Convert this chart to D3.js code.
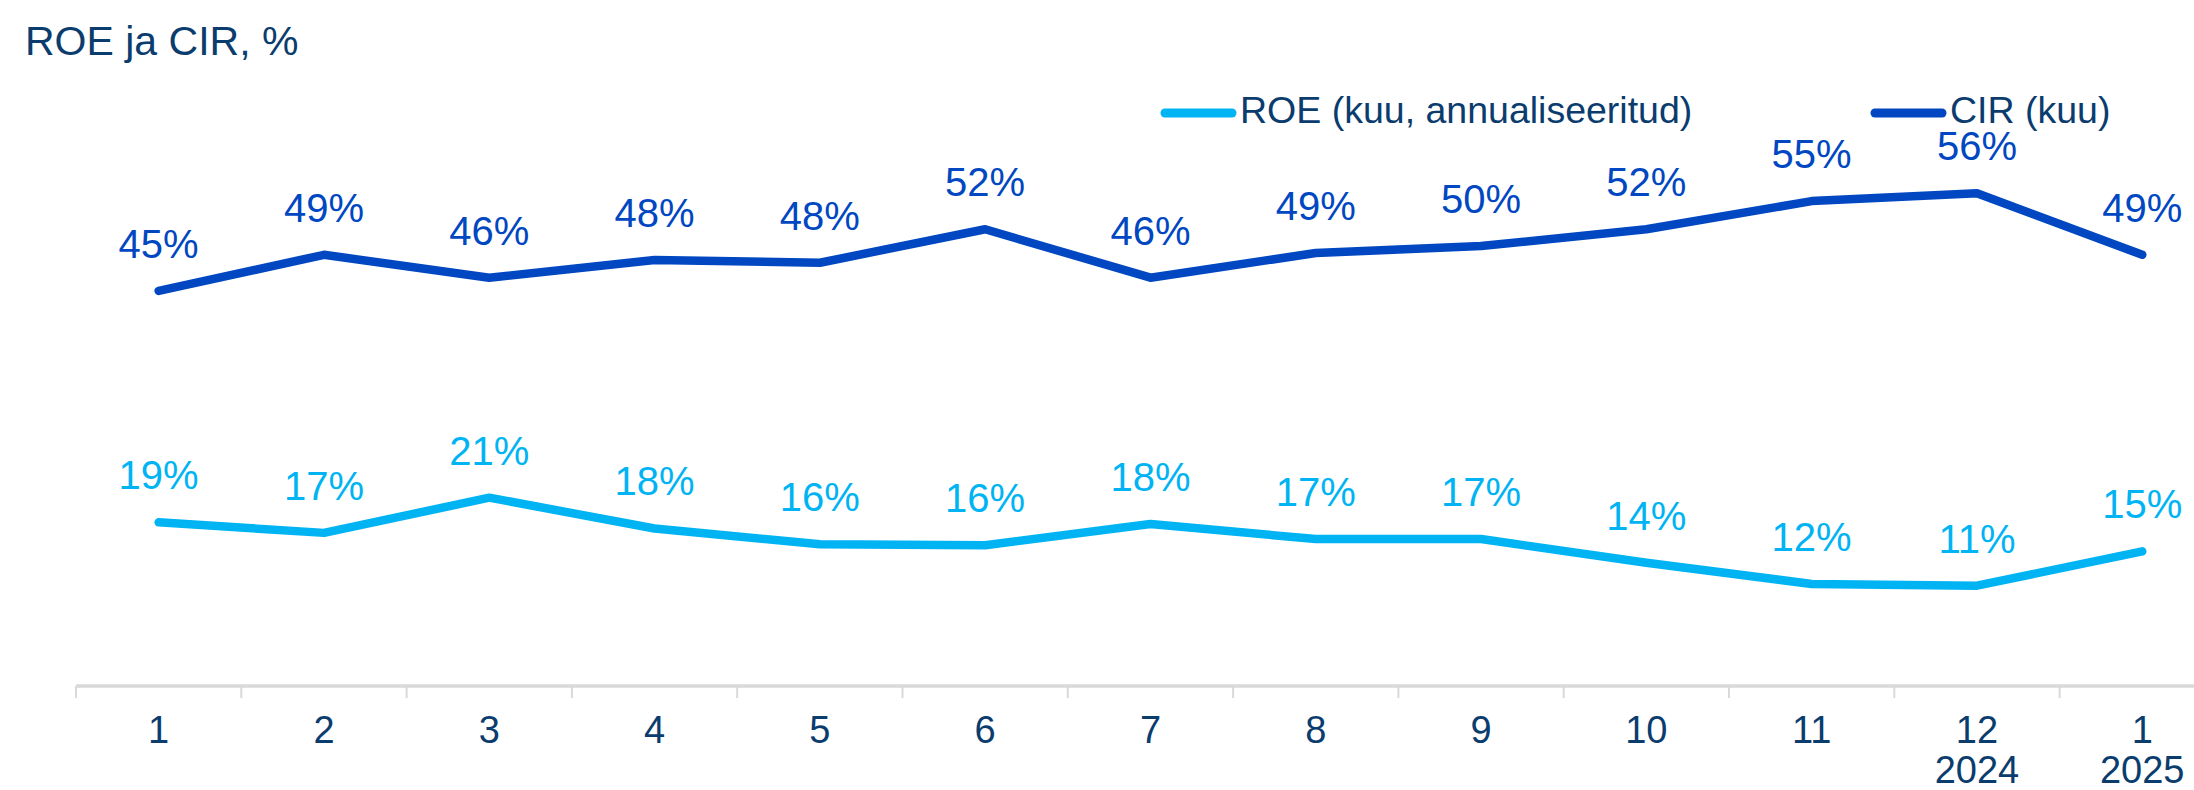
<!DOCTYPE html>
<html>
<head>
<meta charset="utf-8">
<style>
  html, body { margin: 0; padding: 0; background: #fff; }
  svg { display: block; }
  text { font-family: "Liberation Sans", Arial, sans-serif; }
</style>
</head>
<body>
<div id="container"></div>
<script src="https://cdn.jsdelivr.net/npm/d3@7"></script>
<script>

// data
const months = ['1', '2', '3', '4', '5', '6', '7', '8', '9', '10', '11', '12', '1'];
const years  = ['', '', '', '', '', '', '', '', '', '', '', '2024', '2025'];
const roe = [18.6, 17.4, 21.4, 17.9, 16.1, 16.0, 18.4, 16.7, 16.7, 14.0, 11.6, 11.4, 15.3];
const cir = [44.9, 49.0, 46.4, 48.4, 48.1, 51.9, 46.4, 49.2, 50.0, 51.9, 55.1, 56.0, 49.0];

const series = [
  { name: 'ROE (kuu, annualiseeritud)', values: roe, color: '#00b4f4', legendX: 1161 },
  { name: 'CIR (kuu)',                  values: cir, color: '#0047c1', legendX: 1871 }
];

const NAVY = '#0b3c6e';
const width = 2194;
const height = 790;

const axisY = 686;
const step = 165.3;

const svg = d3.create('svg')
    .attr('width', width)
    .attr('height', height);

// x: one band per month, the last band runs off the right edge like in the original
const x = d3.scaleBand()
    .domain(d3.range(months.length))
    .range([76, 76 + step * months.length])
    .paddingInner(0).paddingOuter(0);

const y = d3.scaleLinear()
    .domain([0, 60])
    .range([axisY, axisY - 60 * 8.8]);

const cx = i => x(i) + x.bandwidth() / 2;

// title
svg.append('text')
    .attr('x', 25)
    .attr('y', 55)
    .attr('fill', NAVY)
    .style('font-size', '41px')
    .text('ROE ja CIR, %');

// axis line + ticks on band edges
svg.append('line')
    .attr('x1', x.range()[0]).attr('x2', x.range()[1])
    .attr('y1', axisY).attr('y2', axisY)
    .attr('stroke', '#d9d9d9')
    .attr('stroke-width', 3.5);

svg.selectAll('.tick-mark').data(d3.range(months.length + 1)).enter().append('line')
    .attr('class', 'tick-mark')
    .attr('x1', i => x.range()[0] + i * x.step())
    .attr('x2', i => x.range()[0] + i * x.step())
    .attr('y1', axisY)
    .attr('y2', axisY + 12)
    .attr('stroke', '#d9d9d9')
    .attr('stroke-width', 2);

// month labels
svg.selectAll('.month').data(months).enter().append('text')
    .attr('class', 'month')
    .attr('x', (d, i) => cx(i))
    .attr('y', 743)
    .attr('text-anchor', 'middle')
    .attr('fill', NAVY)
    .style('font-size', '38px')
    .text(d => d);

svg.selectAll('.year').data(years).enter().append('text')
    .attr('class', 'year')
    .attr('x', (d, i) => cx(i))
    .attr('y', 783)
    .attr('text-anchor', 'middle')
    .attr('fill', NAVY)
    .style('font-size', '38px')
    .text(d => d);

// lines
const line = d3.line()
    .x((d, i) => cx(i))
    .y(d => y(d));

series.forEach(s => {
  svg.append('path')
      .datum(s.values)
      .attr('d', line)
      .attr('fill', 'none')
      .attr('stroke', s.color)
      .attr('stroke-width', 8.5)
      .attr('stroke-linejoin', 'round')
      .attr('stroke-linecap', 'round');

  svg.append('g').selectAll('text').data(s.values).enter().append('text')
      .attr('x', (d, i) => cx(i))
      .attr('y', d => y(d) - 33)
      .attr('text-anchor', 'middle')
      .attr('fill', s.color)
      .style('font-size', '40px')
      .text(d => Math.round(d) + '%');

  // legend
  svg.append('line')
      .attr('x1', s.legendX + 4).attr('x2', s.legendX + 71)
      .attr('y1', 113).attr('y2', 113)
      .attr('stroke', s.color)
      .attr('stroke-width', 9)
      .attr('stroke-linecap', 'round');

  svg.append('text')
      .attr('x', s.legendX + 79)
      .attr('y', 123)
      .attr('fill', NAVY)
      .style('font-size', '37.5px')
      .text(s.name);
});

container.append(svg.node());

</script>
</body>
</html>
